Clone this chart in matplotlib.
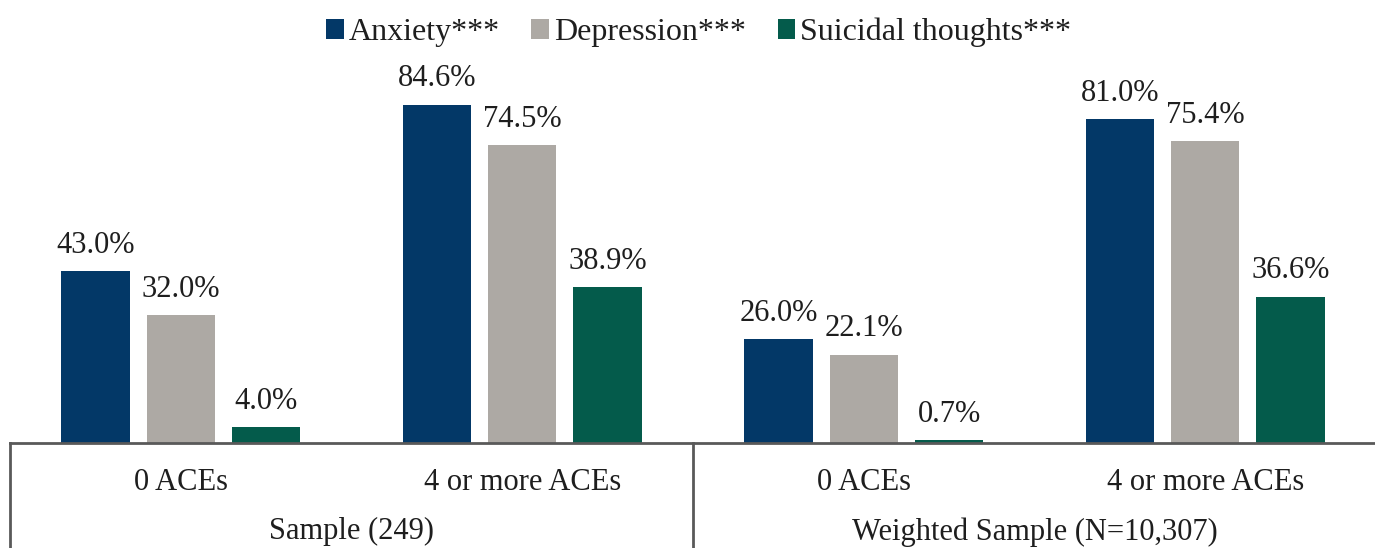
import matplotlib
matplotlib.use("Agg")
import matplotlib.pyplot as plt
import matplotlib.transforms as mtransforms
from matplotlib.patches import Patch
import numpy as np

# group labels along the x axis
subgroups = ["0 ACEs", "4 or more ACEs", "0 ACEs", "4 or more ACEs"]
samples = ["Sample (249)", "Weighted Sample (N=10,307)"]

# percentages per outcome, one value per subgroup
series_names = ["Anxiety***", "Depression***", "Suicidal thoughts***"]
anxiety = [43.0, 84.6, 26.0, 81.0]
depression = [32.0, 74.5, 22.1, 75.4]
suicidal = [4.0, 38.9, 0.7, 36.6]

COLORS = ["#033867", "#ADA9A4", "#045B4B"]
LINE = "#595959"
TEXT = "#1E1E1E"

plt.rcParams["font.family"] = ["Liberation Serif", "DejaVu Serif"]

fig = plt.figure(figsize=(13.75, 5.48), dpi=100)
ax = fig.add_axes([10 / 1375, 105 / 548, 1366 / 1375, 400 / 548])

x = np.arange(len(subgroups))
width = 0.2
step = 0.25
for i, (vals, color) in enumerate(zip([anxiety, depression, suicidal], COLORS)):
    pos = x + (i - 1) * step
    ax.bar(pos, vals, width=width, color=color, zorder=2)
    for px, v in zip(pos, vals):
        ax.annotate(f"{v:.1f}%", (px, v), xytext=(0, 8), textcoords="offset points",
                    ha="center", va="bottom", fontsize=22, color=TEXT)

ax.set_xlim(-0.5, 3.5)
ax.set_ylim(0, 100)
ax.set_yticks([])
for side in ["left", "right", "top"]:
    ax.spines[side].set_visible(False)
ax.spines["bottom"].set_color(LINE)
ax.spines["bottom"].set_linewidth(2)

ax.set_xticks(x)
ax.set_xticklabels(subgroups, fontsize=22, color=TEXT)
ax.tick_params(axis="x", length=0, pad=18)

# separators below the axis and the sample labels
trans = mtransforms.blended_transform_factory(ax.transData, ax.transAxes)
for xv in [-0.5, 1.5, 3.5]:
    ax.plot([xv, xv], [0, -0.3], transform=trans, color=LINE, lw=2, clip_on=False)
for xv, lab in zip([0.5, 2.5], samples):
    ax.text(xv, -0.222, lab, transform=trans, ha="center", va="center",
            fontsize=22, color=TEXT)

handles = [Patch(facecolor=c, edgecolor="none") for c in COLORS]
fig.legend(handles, series_names, loc="upper center", bbox_to_anchor=(0.508, 1.02),
           ncol=3, frameon=False, fontsize=23, handlelength=0.55, handleheight=0.55,
           handletextpad=0.15, columnspacing=1.0, labelcolor=TEXT)

fig.savefig("out.png", dpi=100)
